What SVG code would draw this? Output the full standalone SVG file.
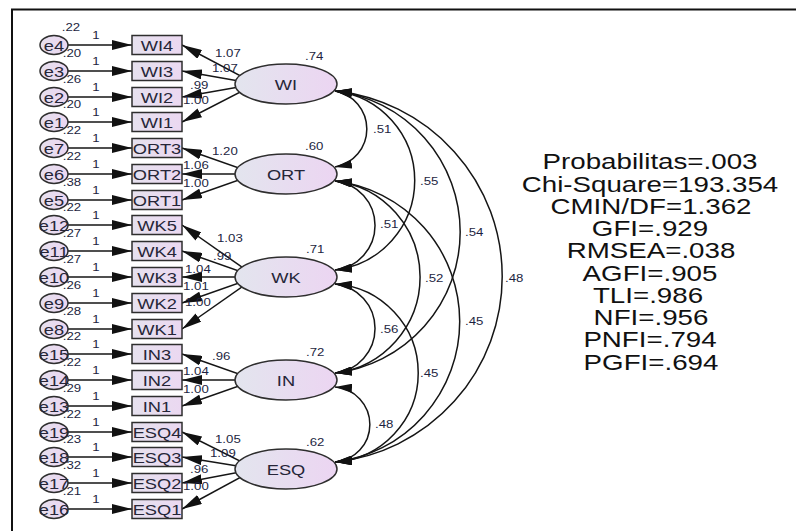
<svg xmlns="http://www.w3.org/2000/svg" width="796" height="531" viewBox="0 0 796 531">
<style>
  text { font-family: "Liberation Sans", Arial, sans-serif; }
  .err, .box, .lat { stroke: #2e2e2e; stroke-width: 1.5; }
  .err { fill: url(#gErr); }
  .box { fill: url(#gBox); }
  .lat { fill: url(#gLat); }
  .nm { font-size: 14.5px; fill: #262638; text-anchor: middle; }
  .ln { stroke: #151515; stroke-width: 1.5; fill: none; }
  .ar { marker-end: url(#ah); }
  .cv { marker-start: url(#ahc); marker-end: url(#ahc); }
  .num { font-size: 10.5px; fill: #1d1f3f; }
  .mid { text-anchor: middle; }
  .st { font-size: 22px; fill: #111; text-anchor: middle; }
</style>
<defs>
  <linearGradient id="gLat" x1="0" y1="0" x2="1" y2="0">
    <stop offset="0" stop-color="#e3e5ee"/>
    <stop offset="1" stop-color="#ecd5f2"/>
  </linearGradient>
  <linearGradient id="gBox" x1="0" y1="0" x2="1" y2="0">
    <stop offset="0" stop-color="#e6e1ee"/>
    <stop offset="1" stop-color="#ebd8f1"/>
  </linearGradient>
  <linearGradient id="gErr" x1="0" y1="0" x2="1" y2="0">
    <stop offset="0" stop-color="#e6e0ee"/>
    <stop offset="1" stop-color="#ebd6f1"/>
  </linearGradient>
  <marker id="ah" markerUnits="userSpaceOnUse" markerWidth="20" markerHeight="10" refX="20" refY="5" orient="auto">
    <path d="M0,0 L20,5 L0,10 z" fill="#111"/>
  </marker>
  <marker id="ahc" markerUnits="userSpaceOnUse" markerWidth="17" markerHeight="9" refX="17" refY="4.5" orient="auto-start-reverse">
    <path d="M0,0 L17,4.5 L0,9 z" fill="#111"/>
  </marker>
</defs>

<rect width="796" height="531" fill="#fff"/>
<!-- frame -->
<path d="M12,540 V9.5 H800" fill="none" stroke="#111" stroke-width="2"/>

<g id="connectors">
  <!-- error terms -> indicators -->
  <g class="ln ar">
    <path d="M68,45 H132"/><path d="M68,71 H132"/><path d="M68,97 H132"/><path d="M68,122 H132"/>
    <path d="M68,148 H132"/><path d="M68,174 H132"/><path d="M68,200 H132"/>
    <path d="M68,225 H132"/><path d="M68,251 H132"/><path d="M68,277 H132"/><path d="M68,303 H132"/><path d="M68,329 H132"/>
    <path d="M68,354 H132"/><path d="M68,380 H132"/><path d="M68,406 H132"/>
    <path d="M68,432 H132"/><path d="M68,457 H132"/><path d="M68,483 H132"/><path d="M68,509 H132"/>
  </g>
  <!-- loadings -->
  <g class="ln ar">
    <path d="M256,84 L182,45"/><path d="M256,84 L182,71"/><path d="M256,84 L182,97"/><path d="M256,84 L182,122"/>
    <path d="M256,174 L182,148"/><path d="M256,174 L182,174"/><path d="M256,174 L182,200"/>
    <path d="M256,277 L182,225"/><path d="M256,277 L182,251"/><path d="M256,277 L182,277"/><path d="M256,277 L182,303"/><path d="M256,277 L182,329"/>
    <path d="M256,380 L182,354"/><path d="M256,380 L182,380"/><path d="M256,380 L182,406"/>
    <path d="M256,469 L182,432"/><path d="M256,469 L182,457"/><path d="M256,469 L182,483"/><path d="M256,469 L182,509"/>
  </g>
  <!-- covariances -->
  <g class="ln cv">
    <path d="M335,91 A38.6,38.6 0 0 1 335,167"/>
    <path d="M335,91 A90.1,90.1 0 0 1 335,270"/>
    <path d="M335,91 A142,142 0 0 1 335,373"/>
    <path d="M335,91 A186.5,186.5 0 0 1 335,462"/>
    <path d="M335,181 A44.75,44.75 0 0 1 335,270"/>
    <path d="M335,181 A96.7,96.7 0 0 1 335,373"/>
    <path d="M335,181 A141.5,141.5 0 0 1 335,462"/>
    <path d="M335,284 A44.75,44.75 0 0 1 335,373"/>
    <path d="M335,284 A89.2,89.2 0 0 1 335,462"/>
    <path d="M335,387 A37.6,37.6 0 0 1 335,462"/>
  </g>

  <!-- error path weights -->
  <g class="num mid">
    <text transform="translate(96,39) scale(1.26,1)">1</text>
    <text transform="translate(96,65) scale(1.26,1)">1</text>
    <text transform="translate(96,91) scale(1.26,1)">1</text>
    <text transform="translate(96,116) scale(1.26,1)">1</text>
    <text transform="translate(96,142) scale(1.26,1)">1</text>
    <text transform="translate(96,168) scale(1.26,1)">1</text>
    <text transform="translate(96,194) scale(1.26,1)">1</text>
    <text transform="translate(96,219) scale(1.26,1)">1</text>
    <text transform="translate(96,245) scale(1.26,1)">1</text>
    <text transform="translate(96,271) scale(1.26,1)">1</text>
    <text transform="translate(96,297) scale(1.26,1)">1</text>
    <text transform="translate(96,323) scale(1.26,1)">1</text>
    <text transform="translate(96,348) scale(1.26,1)">1</text>
    <text transform="translate(96,374) scale(1.26,1)">1</text>
    <text transform="translate(96,400) scale(1.26,1)">1</text>
    <text transform="translate(96,426) scale(1.26,1)">1</text>
    <text transform="translate(96,451) scale(1.26,1)">1</text>
    <text transform="translate(96,477) scale(1.26,1)">1</text>
    <text transform="translate(96,503) scale(1.26,1)">1</text>
  </g>

  <!-- loading estimates -->
  <g class="num">
    <text transform="translate(215,57) scale(1.26,1)">1.07</text>
    <text transform="translate(212,72) scale(1.26,1)">1.07</text>
    <text transform="translate(190,89) scale(1.26,1)">.99</text>
    <text transform="translate(183,104) scale(1.26,1)">1.00</text>
    <text transform="translate(212,155) scale(1.26,1)">1.20</text>
    <text transform="translate(183,169) scale(1.26,1)">1.06</text>
    <text transform="translate(183,187) scale(1.26,1)">1.00</text>
    <text transform="translate(217,242) scale(1.26,1)">1.03</text>
    <text transform="translate(213,260) scale(1.26,1)">.99</text>
    <text transform="translate(185,273) scale(1.26,1)">1.04</text>
    <text transform="translate(183,290) scale(1.26,1)">1.01</text>
    <text transform="translate(185,306) scale(1.26,1)">1.00</text>
    <text transform="translate(212,360) scale(1.26,1)">.96</text>
    <text transform="translate(183,375) scale(1.26,1)">1.04</text>
    <text transform="translate(183,393) scale(1.26,1)">1.00</text>
    <text transform="translate(215,443) scale(1.26,1)">1.05</text>
    <text transform="translate(210,457) scale(1.26,1)">1.09</text>
    <text transform="translate(190,473) scale(1.26,1)">.96</text>
    <text transform="translate(183,490) scale(1.26,1)">1.00</text>
  </g>

  <!-- correlations -->
  <g class="num">
    <text transform="translate(373,133) scale(1.26,1)">.51</text>
    <text transform="translate(420,185) scale(1.26,1)">.55</text>
    <text transform="translate(465,236) scale(1.26,1)">.54</text>
    <text transform="translate(505,282) scale(1.26,1)">.48</text>
    <text transform="translate(380,228) scale(1.26,1)">.51</text>
    <text transform="translate(425,282) scale(1.26,1)">.52</text>
    <text transform="translate(465,325) scale(1.26,1)">.45</text>
    <text transform="translate(380,333) scale(1.26,1)">.56</text>
    <text transform="translate(420,377) scale(1.26,1)">.45</text>
    <text transform="translate(375,428) scale(1.26,1)">.48</text>
  </g>
</g>

<!-- error terms -->
<g id="e4"><ellipse class="err" cx="54" cy="45" rx="14" ry="9.5"/><text class="nm" transform="translate(54,50.5) scale(1.26,1)">e4</text><text class="num mid" transform="translate(71,31) scale(1.26,1)">.22</text></g>
<g id="e3"><ellipse class="err" cx="54" cy="71" rx="14" ry="9.5"/><text class="nm" transform="translate(54,76.5) scale(1.26,1)">e3</text><text class="num mid" transform="translate(72,57) scale(1.26,1)">.20</text></g>
<g id="e2"><ellipse class="err" cx="54" cy="97" rx="14" ry="9.5"/><text class="nm" transform="translate(54,102.5) scale(1.26,1)">e2</text><text class="num mid" transform="translate(72,83) scale(1.26,1)">.26</text></g>
<g id="e1"><ellipse class="err" cx="54" cy="122" rx="14" ry="9.5"/><text class="nm" transform="translate(54,127.5) scale(1.26,1)">e1</text><text class="num mid" transform="translate(72,108) scale(1.26,1)">.20</text></g>
<g id="e7"><ellipse class="err" cx="54" cy="148" rx="14" ry="9.5"/><text class="nm" transform="translate(54,153.5) scale(1.26,1)">e7</text><text class="num mid" transform="translate(72,134) scale(1.26,1)">.22</text></g>
<g id="e6"><ellipse class="err" cx="54" cy="174" rx="14" ry="9.5"/><text class="nm" transform="translate(54,179.5) scale(1.26,1)">e6</text><text class="num mid" transform="translate(72,160) scale(1.26,1)">.22</text></g>
<g id="e5"><ellipse class="err" cx="54" cy="200" rx="14" ry="9.5"/><text class="nm" transform="translate(54,205.5) scale(1.26,1)">e5</text><text class="num mid" transform="translate(72,186) scale(1.26,1)">.38</text></g>
<g id="e12"><ellipse class="err" cx="54" cy="225" rx="14" ry="9.5"/><text class="nm" transform="translate(54,230.5) scale(1.26,1)">e12</text><text class="num mid" transform="translate(72,211) scale(1.26,1)">.22</text></g>
<g id="e11"><ellipse class="err" cx="54" cy="251" rx="14" ry="9.5"/><text class="nm" transform="translate(54,256.5) scale(1.26,1)">e11</text><text class="num mid" transform="translate(72,237) scale(1.26,1)">.27</text></g>
<g id="e10"><ellipse class="err" cx="54" cy="277" rx="14" ry="9.5"/><text class="nm" transform="translate(54,282.5) scale(1.26,1)">e10</text><text class="num mid" transform="translate(72,263) scale(1.26,1)">.27</text></g>
<g id="e9"><ellipse class="err" cx="54" cy="303" rx="14" ry="9.5"/><text class="nm" transform="translate(54,308.5) scale(1.26,1)">e9</text><text class="num mid" transform="translate(72,289) scale(1.26,1)">.26</text></g>
<g id="e8"><ellipse class="err" cx="54" cy="329" rx="14" ry="9.5"/><text class="nm" transform="translate(54,334.5) scale(1.26,1)">e8</text><text class="num mid" transform="translate(72,315) scale(1.26,1)">.28</text></g>
<g id="e15"><ellipse class="err" cx="54" cy="354" rx="14" ry="9.5"/><text class="nm" transform="translate(54,359.5) scale(1.26,1)">e15</text><text class="num mid" transform="translate(72,340) scale(1.26,1)">.22</text></g>
<g id="e14"><ellipse class="err" cx="54" cy="380" rx="14" ry="9.5"/><text class="nm" transform="translate(54,385.5) scale(1.26,1)">e14</text><text class="num mid" transform="translate(72,366) scale(1.26,1)">.22</text></g>
<g id="e13"><ellipse class="err" cx="54" cy="406" rx="14" ry="9.5"/><text class="nm" transform="translate(54,411.5) scale(1.26,1)">e13</text><text class="num mid" transform="translate(72,392) scale(1.26,1)">.29</text></g>
<g id="e19"><ellipse class="err" cx="54" cy="432" rx="14" ry="9.5"/><text class="nm" transform="translate(54,437.5) scale(1.26,1)">e19</text><text class="num mid" transform="translate(72,418) scale(1.26,1)">.22</text></g>
<g id="e18"><ellipse class="err" cx="54" cy="457" rx="14" ry="9.5"/><text class="nm" transform="translate(54,462.5) scale(1.26,1)">e18</text><text class="num mid" transform="translate(72,443) scale(1.26,1)">.23</text></g>
<g id="e17"><ellipse class="err" cx="54" cy="483" rx="14" ry="9.5"/><text class="nm" transform="translate(54,488.5) scale(1.26,1)">e17</text><text class="num mid" transform="translate(72,469) scale(1.26,1)">.32</text></g>
<g id="e16"><ellipse class="err" cx="54" cy="509" rx="14" ry="9.5"/><text class="nm" transform="translate(54,514.5) scale(1.26,1)">e16</text><text class="num mid" transform="translate(72,495) scale(1.26,1)">.21</text></g>

<!-- observed indicators -->
<g id="WI4"><rect class="box" x="132" y="35.5" width="50" height="19"/><text class="nm" transform="translate(157,50.5) scale(1.26,1)">WI4</text></g>
<g id="WI3"><rect class="box" x="132" y="61.5" width="50" height="19"/><text class="nm" transform="translate(157,76.5) scale(1.26,1)">WI3</text></g>
<g id="WI2"><rect class="box" x="132" y="87.5" width="50" height="19"/><text class="nm" transform="translate(157,102.5) scale(1.26,1)">WI2</text></g>
<g id="WI1"><rect class="box" x="132" y="112.5" width="50" height="19"/><text class="nm" transform="translate(157,127.5) scale(1.26,1)">WI1</text></g>
<g id="ORT3"><rect class="box" x="132" y="138.5" width="50" height="19"/><text class="nm" transform="translate(157,153.5) scale(1.26,1)">ORT3</text></g>
<g id="ORT2"><rect class="box" x="132" y="164.5" width="50" height="19"/><text class="nm" transform="translate(157,179.5) scale(1.26,1)">ORT2</text></g>
<g id="ORT1"><rect class="box" x="132" y="190.5" width="50" height="19"/><text class="nm" transform="translate(157,205.5) scale(1.26,1)">ORT1</text></g>
<g id="WK5"><rect class="box" x="132" y="215.5" width="50" height="19"/><text class="nm" transform="translate(157,230.5) scale(1.26,1)">WK5</text></g>
<g id="WK4"><rect class="box" x="132" y="241.5" width="50" height="19"/><text class="nm" transform="translate(157,256.5) scale(1.26,1)">WK4</text></g>
<g id="WK3"><rect class="box" x="132" y="267.5" width="50" height="19"/><text class="nm" transform="translate(157,282.5) scale(1.26,1)">WK3</text></g>
<g id="WK2"><rect class="box" x="132" y="293.5" width="50" height="19"/><text class="nm" transform="translate(157,308.5) scale(1.26,1)">WK2</text></g>
<g id="WK1"><rect class="box" x="132" y="319.5" width="50" height="19"/><text class="nm" transform="translate(157,334.5) scale(1.26,1)">WK1</text></g>
<g id="IN3"><rect class="box" x="132" y="344.5" width="50" height="19"/><text class="nm" transform="translate(157,359.5) scale(1.26,1)">IN3</text></g>
<g id="IN2"><rect class="box" x="132" y="370.5" width="50" height="19"/><text class="nm" transform="translate(157,385.5) scale(1.26,1)">IN2</text></g>
<g id="IN1"><rect class="box" x="132" y="396.5" width="50" height="19"/><text class="nm" transform="translate(157,411.5) scale(1.26,1)">IN1</text></g>
<g id="ESQ4"><rect class="box" x="132" y="422.5" width="50" height="19"/><text class="nm" transform="translate(157,437.5) scale(1.26,1)">ESQ4</text></g>
<g id="ESQ3"><rect class="box" x="132" y="447.5" width="50" height="19"/><text class="nm" transform="translate(157,462.5) scale(1.26,1)">ESQ3</text></g>
<g id="ESQ2"><rect class="box" x="132" y="473.5" width="50" height="19"/><text class="nm" transform="translate(157,488.5) scale(1.26,1)">ESQ2</text></g>
<g id="ESQ1"><rect class="box" x="132" y="499.5" width="50" height="19"/><text class="nm" transform="translate(157,514.5) scale(1.26,1)">ESQ1</text></g>

<!-- latent factors -->
<g id="WI"><ellipse class="lat" cx="286" cy="84" rx="51" ry="20"/><text class="nm" transform="translate(286,89.5) scale(1.26,1)">WI</text><text class="num" transform="translate(305,60) scale(1.26,1)">.74</text></g>
<g id="ORT"><ellipse class="lat" cx="286" cy="174" rx="51" ry="20"/><text class="nm" transform="translate(286,179.5) scale(1.26,1)">ORT</text><text class="num" transform="translate(305,150) scale(1.26,1)">.60</text></g>
<g id="WK"><ellipse class="lat" cx="286" cy="277" rx="51" ry="20"/><text class="nm" transform="translate(286,282.5) scale(1.26,1)">WK</text><text class="num" transform="translate(306,253) scale(1.26,1)">.71</text></g>
<g id="IN"><ellipse class="lat" cx="286" cy="380" rx="51" ry="20"/><text class="nm" transform="translate(286,385.5) scale(1.26,1)">IN</text><text class="num" transform="translate(306,356) scale(1.26,1)">.72</text></g>
<g id="ESQ"><ellipse class="lat" cx="286" cy="469" rx="51" ry="20"/><text class="nm" transform="translate(286,474.5) scale(1.26,1)">ESQ</text><text class="num" transform="translate(306,446) scale(1.26,1)">.62</text></g>

<!-- model fit summary -->
<g id="fit">
  <text class="st" transform="translate(650,169) scale(1.26,1)">Probabilitas=.003</text>
  <text class="st" transform="translate(650,192) scale(1.26,1)">Chi-Square=193.354</text>
  <text class="st" transform="translate(651,214) scale(1.26,1)">CMIN/DF=1.362</text>
  <text class="st" transform="translate(650,236) scale(1.26,1)">GFI=.929</text>
  <text class="st" transform="translate(651,258) scale(1.26,1)">RMSEA=.038</text>
  <text class="st" transform="translate(650,281) scale(1.26,1)">AGFI=.905</text>
  <text class="st" transform="translate(648,303) scale(1.26,1)">TLI=.986</text>
  <text class="st" transform="translate(651,325) scale(1.26,1)">NFI=.956</text>
  <text class="st" transform="translate(650,347) scale(1.26,1)">PNFI=.794</text>
  <text class="st" transform="translate(651,370) scale(1.26,1)">PGFI=.694</text>
</g>
</svg>
